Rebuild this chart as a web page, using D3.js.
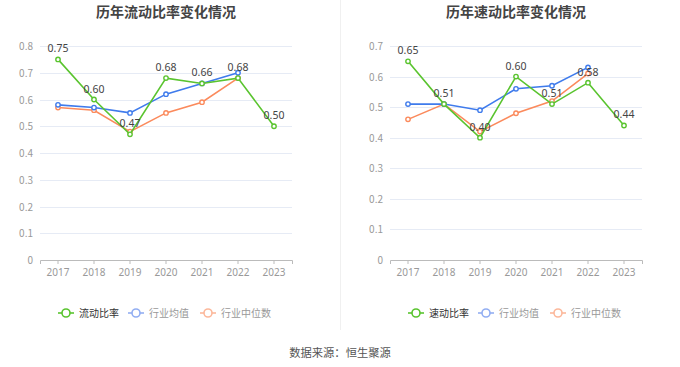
<!DOCTYPE html>
<html>
<head>
<meta charset="utf-8">
<script src="https://cdn.jsdelivr.net/npm/d3@7"></script>
<style>
body { margin: 0; background: #fff; font-family: "Noto Sans CJK SC", "Noto Sans", sans-serif; }
</style>
</head>
<body>
<div id="viz"></div>
<script>
var years = ["2017", "2018", "2019", "2020", "2021", "2022", "2023"];

var currentRatio = [0.75, 0.60, 0.47, 0.68, 0.66, 0.68, 0.50];
var currentAvg = [0.58, 0.57, 0.55, 0.62, 0.66, 0.70, null];
var currentMedian = [0.57, 0.56, 0.48, 0.55, 0.59, 0.68, null];

var quickRatio = [0.65, 0.51, 0.40, 0.60, 0.51, 0.58, 0.44];
var quickAvg = [0.51, 0.51, 0.49, 0.56, 0.57, 0.63, null];
var quickMedian = [0.46, 0.51, 0.42, 0.48, 0.52, 0.61, null];

var leftTicks = [0, 0.1, 0.2, 0.3, 0.4, 0.5, 0.6, 0.7, 0.8];
var rightTicks = [0, 0.1, 0.2, 0.3, 0.4, 0.5, 0.6, 0.7];

var w = 680, h = 367;
var green = "#5ac42f", blue = "#3f7bec", orange = "#fb8a5c";

var svg = d3.select("#viz").append("svg")
	.attr("width", w)
	.attr("height", h);

// divider between the two panels
svg.append("line")
	.attr("x1", 340.5).attr("x2", 340.5)
	.attr("y1", 0).attr("y2", 330)
	.style("stroke", "#f0f0f0")
	.style("stroke-width", 1);

function drawPanel(ox, title, ticks, yMax, main, avg, median, names) {
	var g = svg.append("g").attr("transform", "translate(" + ox + ",0)");
	var left = 40, right = 292, top = 46, bottom = 260;

	var x = d3.scaleBand().domain(years).range([left, right]);
	var y = d3.scaleLinear().domain([0, yMax]).range([bottom, top]);

	g.append("text")
		.attr("x", 166).attr("y", 17)
		.attr("text-anchor", "middle")
		.style("font-size", "14px")
		.style("font-weight", "bold")
		.style("fill", "#444")
		.text(title);

	// grid
	g.selectAll("line.grid")
		.data(ticks.filter(function(d){ return d > 0; }))
		.enter().append("line")
		.attr("class", "grid")
		.attr("x1", left).attr("x2", right)
		.attr("y1", function(d){ return Math.round(y(d)) + 0.5; })
		.attr("y2", function(d){ return Math.round(y(d)) + 0.5; })
		.style("stroke", "#e6ebf5");

	g.selectAll("text.ylab")
		.data(ticks)
		.enter().append("text")
		.attr("class", "ylab")
		.attr("x", left - 7)
		.attr("y", function(d){ return y(d) + 4; })
		.attr("text-anchor", "end")
		.style("font-size", "10px")
		.style("fill", "#999")
		.text(function(d){ return d === 0 ? "0" : d3.format(".1f")(d); });

	// x axis
	var xa = g.append("g").attr("transform", "translate(0," + bottom + ")")
		.call(d3.axisBottom(x).tickSizeOuter(0).tickSize(4));
	xa.select(".domain").style("stroke", "#bbb");
	xa.selectAll(".tick line").style("stroke", "#bbb");
	xa.selectAll(".tick text")
		.attr("dy", "0.9em")
		.style("font-size", "10px")
		.style("fill", "#999")
		.style("font-family", "'Noto Sans', sans-serif");

	var cx = function(i){ return x(years[i]) + x.bandwidth() / 2; };
	var line = d3.line()
		.defined(function(d){ return d != null; })
		.x(function(d, i){ return cx(i); })
		.y(function(d){ return y(d); });

	function series(data, colour) {
		g.append("path")
			.datum(data)
			.attr("d", line)
			.style("fill", "none")
			.style("stroke", colour)
			.style("stroke-width", 1.6);
		g.append("g").selectAll("circle")
			.data(data.map(function(d, i){ return {v: d, i: i}; }).filter(function(d){ return d.v != null; }))
			.enter().append("circle")
			.attr("cx", function(d){ return cx(d.i); })
			.attr("cy", function(d){ return y(d.v); })
			.attr("r", 2.2)
			.style("fill", "#fff")
			.style("stroke", colour)
			.style("stroke-width", 1.4);
	}

	series(median, orange);
	series(avg, blue);
	series(main, green);

	g.append("g").selectAll("text")
		.data(main)
		.enter().append("text")
		.attr("x", function(d, i){ return cx(i); })
		.attr("y", function(d){ return y(d) - 7; })
		.attr("text-anchor", "middle")
		.style("font-size", "10.5px")
		.style("fill", "#444")
		.style("font-family", "'Noto Sans', sans-serif")
		.text(function(d){ return d3.format(".2f")(d); });

	// legend
	var legend = [
		{name: names[0], colour: green, text: "#333", x: 58},
		{name: names[1], colour: "#92aef2", text: "#999", x: 128},
		{name: names[2], colour: "#fcb89b", text: "#999", x: 200}
	];
	var lg = g.append("g").selectAll("g")
		.data(legend)
		.enter().append("g")
		.attr("transform", function(d){ return "translate(" + d.x + ",313)"; });
	lg.append("line")
		.attr("x1", 0).attr("x2", 16)
		.style("stroke", function(d){ return d.colour; })
		.style("stroke-width", 1.6);
	lg.append("circle")
		.attr("cx", 8).attr("r", 4)
		.style("fill", "#fff")
		.style("stroke", function(d){ return d.colour; })
		.style("stroke-width", 1.6);
	lg.append("text")
		.attr("x", 21).attr("y", 4)
		.style("font-size", "10px")
		.style("fill", function(d){ return d.text; })
		.text(function(d){ return d.name; });
}

drawPanel(0, "历年流动比率变化情况", leftTicks, 0.8, currentRatio, currentAvg, currentMedian, ["流动比率", "行业均值", "行业中位数"]);
drawPanel(350, "历年速动比率变化情况", rightTicks, 0.7, quickRatio, quickAvg, quickMedian, ["速动比率", "行业均值", "行业中位数"]);

svg.append("text")
	.attr("x", 340).attr("y", 357)
	.attr("text-anchor", "middle")
	.style("font-size", "11.3px")
	.style("fill", "#555")
	.text("数据来源：恒生聚源");
</script>
</body>
</html>
